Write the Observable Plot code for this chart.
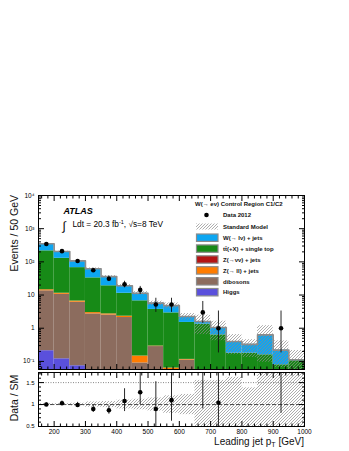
<!DOCTYPE html>
<html><head><meta charset="utf-8">
<script src="https://cdn.jsdelivr.net/npm/d3@7"></script>
<script src="https://cdn.jsdelivr.net/npm/@observablehq/plot@0.6"></script>
<style>
body{margin:0;background:#fff;}
#chart{position:relative;width:349px;height:451px;font-family:"Liberation Sans",Arial,Helvetica,sans-serif;}
#chart svg{position:absolute;left:0;top:0;overflow:visible;background:transparent !important;}
</style></head><body><div id="chart"></div>
<script>
// ---------------- data ----------------
const binEdges = [150,200,250,300,350,400,450,500,550,600,650,700,750,800,850,900,950,1000];
const higgs    = [0.21,0.12,0.074,0,0,0,0,0,0,0,0,0,0,0,0,0,0];
const dibosons = [13.2,10.4,6.0,2.7,2.5,2.1,0.09,0.28,0.03,0.11,0,0,0,0,0,0,0];
const zll      = [1.0,0.8,0.5,0.25,0.2,0.2,0.055,0.01,0.033,0.005,0,0,0,0,0,0,0];
const znunu    = [0.03,0.02,0.01,0.01,0.005,0.005,0,0,0,0,0,0,0,0,0,0,0];
const ttbar    = [200.6,116.7,60.4,30,16.3,9.0,6.55,3.4,2.84,1.38,1.32,0.63,0.177,0.177,0.158,0.079,0.105];
const wjets    = [135,77,40,29,17,7.7,4.6,2.0,1.9,0.75,0.28,0.42,0.22,0.15,0.47,0.14,0.007];
const dataValues = [345,210,106,56,31,21,14.3,5.2,5.2,null,3,1,null,null,null,1,null];
const dataLow    = [327,196,96,48.5,25.5,16.5,10.5,3.0,3.0,null,1.4,0.18,null,null,null,0.18,null];
const dataHigh   = [364,224,117,64,37,26,18.2,8.0,8.0,null,6.4,3.3,null,null,null,3.3,null];
const ratioValues = [1.0,1.03,0.99,0.90,0.87,1.08,1.28,0.90,1.10,null,1.9,1.04,null,null,null,4.5,null];
const ratioLow    = [0.96,0.98,0.94,0.82,0.78,0.84,1.0,0.45,0.62,null,0.9,0.45,null,null,null,0.8,null];
const ratioHigh   = [1.04,1.08,1.05,0.98,0.97,1.36,1.8,1.52,1.8,null,3,3,null,null,null,3,null];
const smUp   = [0.02,0.02,0.03,0.06,0.07,0.1,0.12,0.15,0.2,0.23,0.55,0.55,0.62,0.38,0.9,0.9,0.9];
const smDown = [0.02,0.02,0.03,0.06,0.07,0.1,0.12,0.15,0.2,0.23,0.6,0.6,0.6,0.6,0.85,0.7,0.6];
const yTickValues = [0.1,1,10,100,1000,10000];
const yTickLabels = ["10\u207B\u00B9","1","10","10\u00B2","10\u00B3","10\u2074"];
const xTickValues = [200,300,400,500,600,700,800,900,1000];
const xTickLabels = ["200","300","400","500","600","700","800","900","1000"];
const rTickValues = [0.5,1,1.5];
const rTickLabels = ["0.5","1","1.5"];
const legendLabels = ["W(\u2192 l\u03BD) + jets","t\u0074\u0304(+X) + single top","Z(\u2192\u03BD\u03BD) + jets","Z(\u2192 ll) + jets","dibosons","Higgs"];
const colors = ["#0ca6f2","#178a17","#b41414","#ff7c00","#8c6c5e","#5a50dc"];

// ---------------- setup ----------------
const font = '"Liberation Sans", Arial, Helvetica, sans-serif';
const chart = document.getElementById("chart");
// hatch pattern defs
const defsSvg = d3.select(chart).append("svg").attr("width",0).attr("height",0);
const pat = defsSvg.append("defs").append("pattern").attr("id","hatch")
  .attr("patternUnits","userSpaceOnUse").attr("width",3).attr("height",3);
pat.append("path").attr("d","M-1,1 l2,-2 M0,3 l3,-3 M2,4 l2,-2")
  .attr("stroke","#8a8a8a").attr("stroke-width",0.7);

const bins = d3.range(binEdges.length-1).map(i => ({i, x1: binEdges[i], x2: binEdges[i+1], xc: (binEdges[i]+binEdges[i+1])/2}));
const components = [
  {values: higgs, color: colors[5]},
  {values: dibosons, color: colors[4]},
  {values: zll, color: colors[3]},
  {values: znunu, color: colors[2]},
  {values: ttbar, color: colors[1]},
  {values: wjets, color: colors[0]}
];
const totals = bins.map(() => 0);
const stackRects = [];
for (const c of components) {
  bins.forEach((b, i) => {
    const v = c.values[i];
    if (v > 0) stackRects.push({x1: b.x1, x2: b.x2, y1: totals[i] > 0 ? totals[i] : 1e-3, y2: totals[i] + v, fill: c.color});
    totals[i] += v;
  });
}
const outline = bins.map(b => ({x: b.x1, y: totals[b.i]})).concat([{x: binEdges[binEdges.length-1], y: totals[totals.length-1]}]);
const mainBand = bins.map(b => ({x1: b.x1, x2: b.x2, y1: totals[b.i]*(1-smDown[b.i]), y2: totals[b.i]*(1+smUp[b.i])}));
const ratioBand = bins.map(b => ({x1: b.x1, x2: b.x2, y1: 1-smDown[b.i], y2: 1+smUp[b.i]}));
const dataPts = bins.filter(b => dataValues[b.i] != null).map(b => ({x: b.xc, y: dataValues[b.i], lo: dataLow[b.i], hi: dataHigh[b.i]}));
const ratioPts = bins.filter(b => ratioValues[b.i] != null).map(b => ({x: b.xc, y: ratioValues[b.i], lo: ratioLow[b.i], hi: ratioHigh[b.i]}));

const yMinor = [];
for (let e = -2; e < 4; e++) for (let k = 2; k <= 9; k++) { const v = k * Math.pow(10, e); if (v > 0.057 && v < 1e4) yMinor.push(v); }
const xMinor = d3.range(160, 1000, 20).filter(v => v % 100 !== 0);
const rMinor = d3.range(0.6, 1.75, 0.1).filter(v => Math.abs(v*2 - Math.round(v*2)) > 1e-6);
const blank = () => "";

function frameTicks(xMaj, xMin, yMaj, yMin) {
  return [
    Plot.axisX(xMaj, {anchor: "bottom", tickSize: -5, tickFormat: blank, label: null}),
    Plot.axisX(xMin, {anchor: "bottom", tickSize: -2.5, tickFormat: blank, label: null}),
    Plot.axisX(xMaj, {anchor: "top", tickSize: -5, tickFormat: blank, label: null}),
    Plot.axisX(xMin, {anchor: "top", tickSize: -2.5, tickFormat: blank, label: null}),
    Plot.axisY(yMaj, {anchor: "left", tickSize: -6, tickFormat: blank, label: null}),
    Plot.axisY(yMin, {anchor: "left", tickSize: -3, tickFormat: blank, label: null}),
    Plot.axisY(yMaj, {anchor: "right", tickSize: -6, tickFormat: blank, label: null}),
    Plot.axisY(yMin, {anchor: "right", tickSize: -3, tickFormat: blank, label: null})
  ];
}

// ---------------- main panel ----------------
const main = Plot.plot({
  width: 349, height: 371,
  marginTop: 195, marginBottom: 2, marginLeft: 38, marginRight: 45,
  style: {background: "none", fontFamily: font},
  x: {domain: [150, 1000], label: null},
  y: {type: "log", domain: [0.057, 1e4], label: null},
  marks: [
    Plot.rect(stackRects, {x1: "x1", x2: "x2", y1: "y1", y2: "y2", fill: "fill", clip: true}),
    Plot.rect(mainBand, {x1: "x1", x2: "x2", y1: "y1", y2: "y2", fill: "url(#hatch)", clip: true}),
    Plot.line(outline, {x: "x", y: "y", curve: "step-after", stroke: "#8c8c8c", strokeWidth: 1.6, clip: true}),
    Plot.ruleX(dataPts, {x: "x", y1: "lo", y2: "hi", stroke: "#111", strokeWidth: 0.9, clip: true}),
    Plot.dot(dataPts, {x: "x", y: "y", r: 2.3, fill: "black", stroke: "none", clip: true}),
    Plot.axisY(yTickValues, {anchor: "left", tickSize: 0, tickPadding: 4, fontSize: 6.5, label: null,
      tickFormat: d => yTickLabels[yTickValues.indexOf(d)]}),
    ...frameTicks(xTickValues, xMinor, yTickValues, yMinor),
    Plot.frame({stroke: "black", strokeWidth: 1})
  ]
});
chart.appendChild(main);

// ---------------- ratio panel ----------------
const ratio = Plot.plot({
  width: 349, height: 451,
  marginTop: 372, marginBottom: 25, marginLeft: 38, marginRight: 45,
  style: {background: "none", fontFamily: font},
  x: {domain: [150, 1000], label: null},
  y: {domain: [0.5, 1.73], label: null},
  marks: [
    Plot.rect(ratioBand, {x1: "x1", x2: "x2", y1: "y1", y2: "y2", fill: "url(#hatch)", clip: true}),
    Plot.ruleY([1.5], {stroke: "#555", strokeWidth: 0.7, strokeDasharray: "1,1.5"}),
    Plot.ruleY([1], {stroke: "#222", strokeWidth: 0.8, strokeDasharray: "4,2"}),
    Plot.ruleX(ratioPts, {x: "x", y1: "lo", y2: "hi", stroke: "#111", strokeWidth: 0.9, clip: true}),
    Plot.dot(ratioPts, {x: "x", y: "y", r: 2.3, fill: "black", stroke: "none", clip: true}),
    Plot.axisY(rTickValues, {anchor: "left", tickSize: 0, tickPadding: 4, fontSize: 6, label: null,
      tickFormat: d => rTickLabels[rTickValues.indexOf(d)]}),
    Plot.axisX(xTickValues, {anchor: "bottom", tickSize: 0, tickPadding: 3, fontSize: 6.5, label: null,
      tickFormat: d => xTickLabels[xTickValues.indexOf(d)]}),
    ...frameTicks(xTickValues, xMinor, rTickValues, rMinor),
    Plot.frame({stroke: "black", strokeWidth: 1})
  ]
});
chart.appendChild(ratio);

// ---------------- overlay text & legend ----------------
const ov = d3.select(chart).append("svg").attr("width", 349).attr("height", 451)
  .style("font-family", font).style("pointer-events", "none");

ov.append("text").attr("transform", "translate(17.5,195) rotate(-90)").attr("text-anchor", "end")
  .attr("font-size", 10.5).attr("fill", "#111").text("Events / 50 GeV");
ov.append("text").attr("transform", "translate(17.5,398) rotate(-90)").attr("text-anchor", "middle")
  .attr("font-size", 10.5).attr("fill", "#111").text("Data / SM");
const xt = ov.append("text").attr("x", 304).attr("y", 444.5).attr("text-anchor", "end")
  .attr("font-size", 10).attr("fill", "#111");
xt.append("tspan").text("Leading jet p");
xt.append("tspan").attr("font-size", 7).attr("dy", 2.5).text("T");
xt.append("tspan").attr("dy", -2.5).text(" [GeV]");

ov.append("text").attr("x", 63.5).attr("y", 213.5).attr("font-size", 9).attr("font-weight", "bold")
  .attr("font-style", "italic").text("ATLAS");
ov.append("text").attr("x", 62.5).attr("y", 229.5).attr("font-size", 12).text("\u222B");
const lum = ov.append("text").attr("x", 72.5).attr("y", 227).attr("font-size", 8.3);
lum.append("tspan").text("Ldt = 20.3 fb");
lum.append("tspan").attr("font-size", 5.5).attr("dy", -3).text("-1");
lum.append("tspan").attr("dy", 3).text(", \u221As=8 TeV");

const lg = ov.append("g").attr("font-size", 6).attr("font-weight", "bold").attr("fill", "#111");
lg.append("text").attr("x", 195).attr("y", 206.2).text("W(\u2192 e\u03BD) Control Region C1/C2");
lg.append("circle").attr("cx", 206.5).attr("cy", 215).attr("r", 2.3).attr("fill", "black");
lg.append("text").attr("x", 223).attr("y", 217.2).text("Data 2012");
lg.append("rect").attr("x", 196).attr("y", 223.5).attr("width", 22).attr("height", 6).attr("fill", "url(#hatch)");
lg.append("text").attr("x", 223).attr("y", 228.7).text("Standard Model");
legendLabels.forEach((t, k) => {
  const cy = 237.7 + k * 10.9;
  lg.append("rect").attr("x", 196.5).attr("y", cy - 3.7).attr("width", 21.5).attr("height", 7.4)
    .attr("fill", colors[k]).attr("stroke", "#8c8c8c").attr("stroke-width", 1.2);
  lg.append("text").attr("x", 223).attr("y", cy + 2.2).text(t);
});
</script></body></html>
